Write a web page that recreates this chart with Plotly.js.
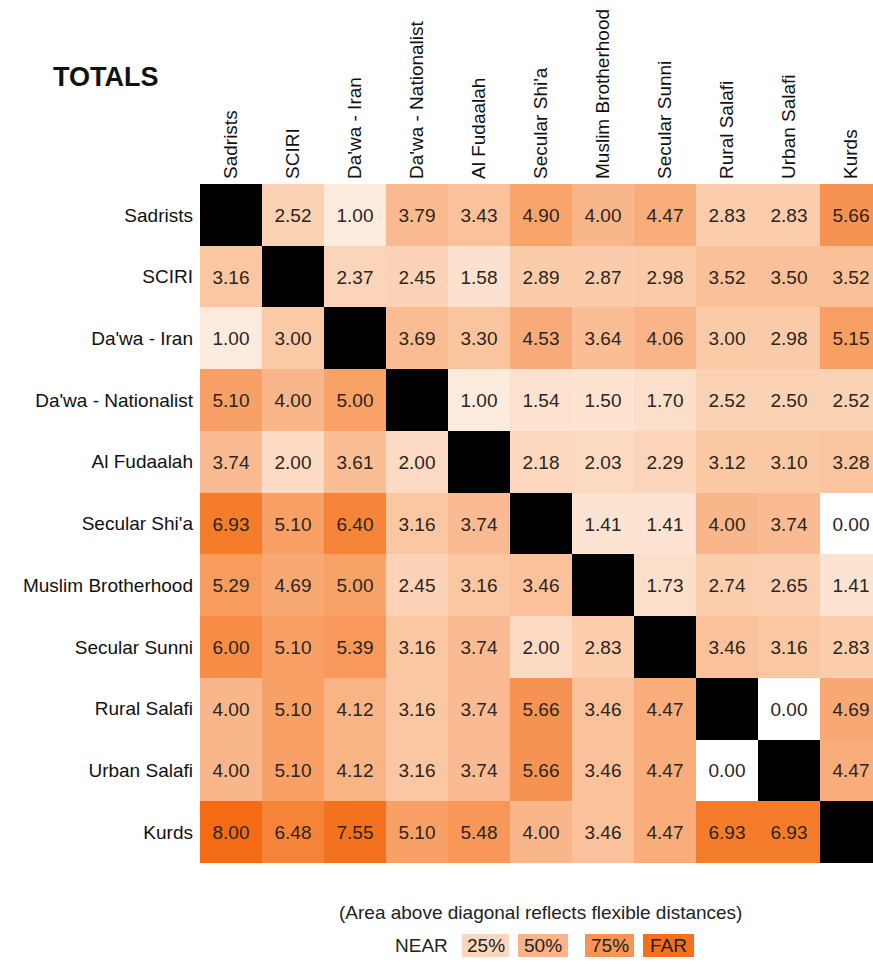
<!DOCTYPE html>
<html>
<head>
<meta charset="utf-8">
<script src="https://cdn.plot.ly/plotly-3.0.1.min.js"></script>
<style>
html,body{margin:0;padding:0;overflow:hidden;background:#fff;}
#chart{width:873px;height:964px;}
</style>
</head>
<body>
<div id="chart"></div>
<script>
var groups = ["Sadrists","SCIRI","Da'wa - Iran","Da'wa - Nationalist","Al Fudaalah","Secular Shi'a","Muslim Brotherhood","Secular Sunni","Rural Salafi","Urban Salafi","Kurds"];

var rowSadrists   = [null,2.52,1.00,3.79,3.43,4.90,4.00,4.47,2.83,2.83,5.66];
var rowSCIRI      = [3.16,null,2.37,2.45,1.58,2.89,2.87,2.98,3.52,3.50,3.52];
var rowDawaIran   = [1.00,3.00,null,3.69,3.30,4.53,3.64,4.06,3.00,2.98,5.15];
var rowDawaNat    = [5.10,4.00,5.00,null,1.00,1.54,1.50,1.70,2.52,2.50,2.52];
var rowFudaalah   = [3.74,2.00,3.61,2.00,null,2.18,2.03,2.29,3.12,3.10,3.28];
var rowSecShia    = [6.93,5.10,6.40,3.16,3.74,null,1.41,1.41,4.00,3.74,0.00];
var rowMuslimBro  = [5.29,4.69,5.00,2.45,3.16,3.46,null,1.73,2.74,2.65,1.41];
var rowSecSunni   = [6.00,5.10,5.39,3.16,3.74,2.00,2.83,null,3.46,3.16,2.83];
var rowRuralSalafi= [4.00,5.10,4.12,3.16,3.74,5.66,3.46,4.47,null,0.00,4.69];
var rowUrbanSalafi= [4.00,5.10,4.12,3.16,3.74,5.66,3.46,4.47,0.00,null,4.47];
var rowKurds      = [8.00,6.48,7.55,5.10,5.48,4.00,3.46,4.47,6.93,6.93,null];

var legendLabels = ["25%","50%","75%","FAR"];
var legendColors = ["#fcd6bd","#f9b487","#f79455","#f4701c"];

var z = [rowSadrists,rowSCIRI,rowDawaIran,rowDawaNat,rowFudaalah,rowSecShia,rowMuslimBro,rowSecSunni,rowRuralSalafi,rowUrbanSalafi,rowKurds];
var text = z.map(function(r){return r.map(function(v){return v===null?"":v.toFixed(2);});});
var diag = groups.map(function(g,i){return groups.map(function(h,j){return i===j?1:null;});});

var scale = [
 [0,"#ffffff"],[0.125,"#fdebdd"],[0.25,"#fcdac3"],[0.375,"#fbcaa7"],
 [0.5,"#f9b68a"],[0.625,"#f8a268"],[0.75,"#f78c46"],[0.875,"#f57b29"],[1,"#f46b14"]
];

var FONT = "Liberation Sans, Arial, sans-serif";

var traces = [
 {type:"heatmap", x:groups, y:groups, z:z, text:text, texttemplate:"%{text}",
  textfont:{family:FONT, size:19, color:"#2b2620"},
  colorscale:scale, zmin:0, zmax:8, showscale:false, hoverinfo:"skip", xgap:0, ygap:0},
 {type:"heatmap", x:groups, y:groups, z:diag, colorscale:[[0,"#000000"],[1,"#000000"]],
  showscale:false, hoverinfo:"skip"}
];

var L=200, T=184, B=101, W=873, H=964;
var pw = W-L, ph = H-T-B;
function px(x){return (x-L)/pw;}
function py(y){return (H-B-y)/ph;}

var shapes = [], annotations = [];
var boxX = [[462,509],[518,568],[585,634],[643,694]];
legendLabels.forEach(function(lab,i){
  shapes.push({type:"rect", xref:"paper", yref:"paper", x0:px(boxX[i][0]), x1:px(boxX[i][1]),
    y0:py(957), y1:py(934), fillcolor:legendColors[i], line:{width:0}, layer:"above"});
  annotations.push({xref:"paper", yref:"paper", x:px((boxX[i][0]+boxX[i][1])/2), y:py(945.5),
    text:lab, showarrow:false, xanchor:"center", yanchor:"middle",
    font:{family:FONT, size:19, color:"#222"}});
});
annotations.push({xref:"paper", yref:"paper", x:px(421), y:py(945.5), text:"NEAR", showarrow:false,
  xanchor:"center", yanchor:"middle", font:{family:FONT, size:19, color:"#222"}});
annotations.push({xref:"paper", yref:"paper", x:px(540), y:py(912), text:"(Area above diagonal reflects flexible distances)",
  showarrow:false, xanchor:"center", yanchor:"middle", font:{family:FONT, size:19, color:"#222"}});
annotations.push({xref:"paper", yref:"paper", x:px(51), y:py(77), text:"<b>TOTALS</b>", showarrow:false,
  xanchor:"left", yanchor:"middle", font:{family:FONT, size:27, color:"#111"}});

var layout = {
  width:W, height:H, margin:{l:L, r:0, t:T, b:B, pad:0},
  paper_bgcolor:"#fff", plot_bgcolor:"#fff", showlegend:false,
  xaxis:{side:"top", tickangle:-90, range:[-0.5,10.35], showgrid:false, zeroline:false, ticks:"",
    tickfont:{family:FONT, size:19, color:"#111"}, fixedrange:true, ticklabelstandoff:4},
  yaxis:{autorange:false, range:[10.5,-0.5], showgrid:false, zeroline:false, ticks:"",
    tickfont:{family:FONT, size:19, color:"#111"}, fixedrange:true, ticklabelstandoff:6},
  shapes:shapes, annotations:annotations
};

Plotly.newPlot("chart", traces, layout, {displayModeBar:false, staticPlot:true});
</script>
</body>
</html>
